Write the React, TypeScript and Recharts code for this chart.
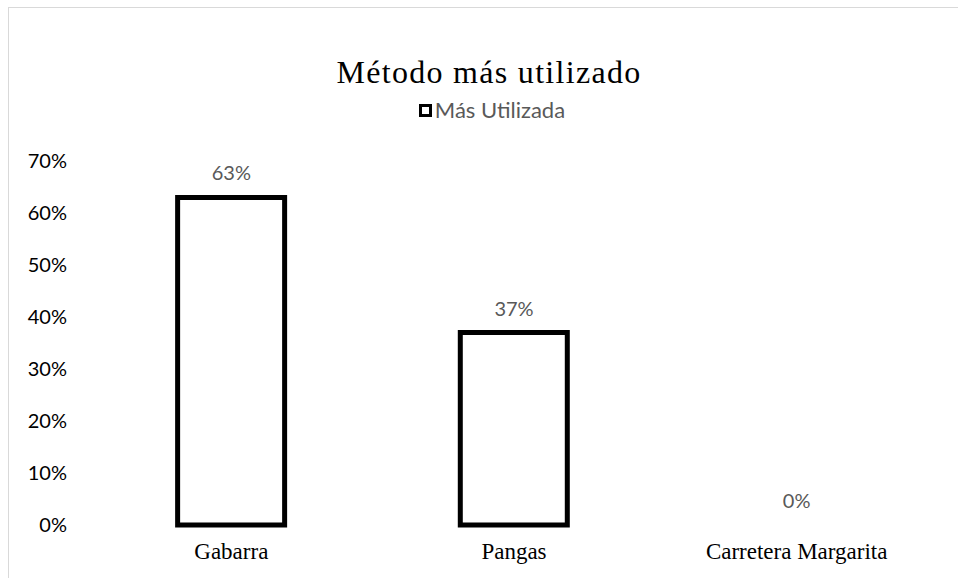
import React from "react";
import { ComposedChart, Bar, Line, XAxis, YAxis, LabelList } from "recharts";

const categories = ["Gabarra", "Pangas", "Carretera Margarita"];
const values = [0.63, 0.37, 0];
const yTicks = [0, 0.1, 0.2, 0.3, 0.4, 0.5, 0.6, 0.7];
const seriesName = "Más Utilizada";
const title = "Método más utilizado";

const data = categories.map((c, i) => ({ name: c, value: values[i] }));
const pct = (v: number) => `${Math.round(v * 100)}%`;

const sans = "Lato, 'Open Sans', sans-serif";
const serif = "'Liberation Serif', 'DejaVu Serif', serif";

export default function App() {
  return (
    <div
      style={{
        position: "absolute",
        left: 8,
        top: 7,
        width: 950,
        height: 571,
        borderTop: "1px solid #d9d9d9",
        borderLeft: "1px solid #d9d9d9",
        background: "#fff",
        overflow: "hidden",
      }}
    >
      <div
        style={{
          position: "absolute",
          left: 0,
          width: 960,
          top: 44,
          textAlign: "center",
          fontFamily: serif,
          fontSize: 32,
          lineHeight: "40px",
          color: "#000",
          letterSpacing: 1.3,
        }}
      >
        {title}
      </div>
      <div
        style={{
          position: "absolute",
          left: 0,
          width: 966,
          top: 89,
          display: "flex",
          justifyContent: "center",
          alignItems: "center",
          fontFamily: sans,
          fontSize: 22,
          lineHeight: "26px",
          color: "#595959",
        }}
      >
        <span
          style={{
            display: "inline-block",
            width: 7,
            height: 7,
            border: "3px solid #000",
            background: "#fff",
            marginRight: 3,
          }}
        />
        {seriesName}
      </div>
      <ComposedChart
        width={949}
        height={570}
        data={data}
        margin={{ top: 153, right: 20, left: 0, bottom: 0 }}
        barCategoryGap="31%"
      >
        <XAxis
          dataKey="name"
          axisLine={false}
          tickLine={false}
          height={53}
          tickMargin={12}
          tick={{ fill: "#000", fontFamily: serif, fontSize: 23 }}
        />
        <YAxis
          width={81}
          domain={[0, 0.7]}
          ticks={yTicks}
          tickFormatter={pct}
          axisLine={false}
          tickLine={false}
          tickMargin={17}
          tick={{ fill: "#000", fontFamily: sans, fontSize: 20 }}
        />
        <Bar
          dataKey="value"
          name={seriesName}
          fill="#fff"
          stroke="#000"
          strokeWidth={5}
          isAnimationActive={false}
        />
        <Line
          dataKey="value"
          stroke="none"
          dot={false}
          activeDot={false}
          legendType="none"
          isAnimationActive={false}
        >
          <LabelList
            dataKey="value"
            position="top"
            offset={17}
            formatter={(v: any) => pct(Number(v))}
            style={{ fill: "#595959", fontFamily: sans, fontSize: 20 }}
          />
        </Line>
      </ComposedChart>
    </div>
  );
}
